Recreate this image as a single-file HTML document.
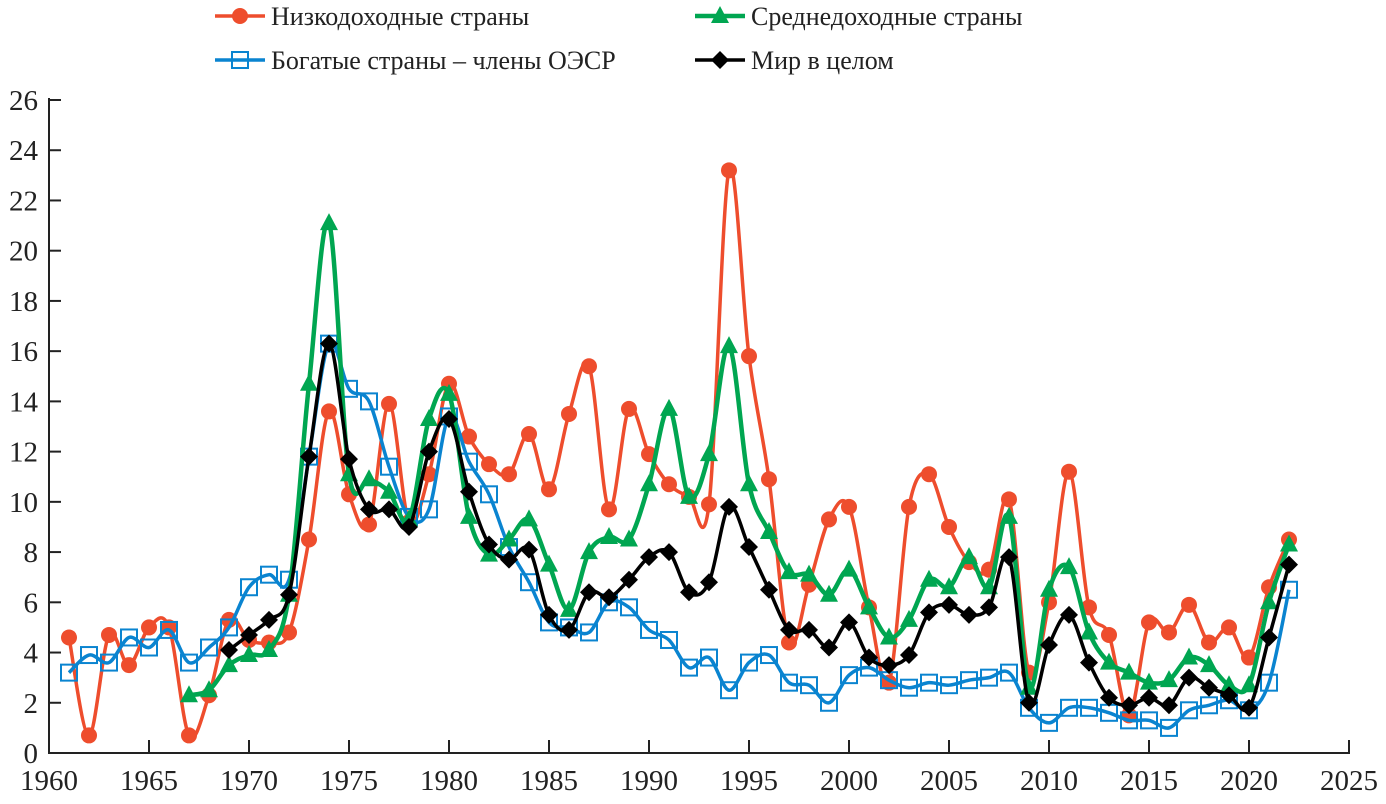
<!DOCTYPE html>
<html><head><meta charset="utf-8"><style>
html,body{margin:0;padding:0;background:#fff;}
svg{display:block;font-family:"Liberation Serif",serif;}
</style></head><body>
<svg id="chart" width="1386" height="804" viewBox="0 0 1386 804">
<g id="axes"></g>
<g id="series"></g>
<g id="legend"></g>
</svg>
<script>
const years = [];
for (let y = 1961; y <= 2022; y++) years.push(y);
const lowIncome = [4.6,0.7,4.7,3.5,5.0,5.0,0.7,2.3,5.3,4.5,4.4,4.8,8.5,13.6,10.3,9.1,13.9,9.2,11.1,14.7,12.6,11.5,11.1,12.7,10.5,13.5,15.4,9.7,13.7,11.9,10.7,10.2,9.9,23.2,15.8,10.9,4.4,6.7,9.3,9.8,5.8,2.8,9.8,11.1,9.0,7.6,7.3,10.1,3.2,6.0,11.2,5.8,4.7,1.5,5.2,4.8,5.9,4.4,5.0,3.8,6.6,8.5];
const middleStart = 1967;
const middleIncome = [2.3,2.5,3.5,3.9,4.1,6.3,14.7,21.1,11.1,10.9,10.4,9.3,13.3,14.3,9.4,7.9,8.5,9.3,7.5,5.7,8.0,8.6,8.5,10.7,13.7,10.2,11.9,16.2,10.7,8.8,7.2,7.1,6.3,7.3,5.8,4.6,5.3,6.9,6.6,7.8,6.6,9.4,2.6,6.5,7.4,4.8,3.6,3.2,2.8,2.9,3.8,3.5,2.7,2.7,6.0,8.3];
const oecd = [3.2,3.9,3.6,4.6,4.2,4.9,3.6,4.2,5.0,6.6,7.1,6.9,11.8,16.3,14.5,14.0,11.4,9.4,9.7,13.4,11.6,10.3,8.2,6.8,5.2,5.0,4.8,6.0,5.8,4.9,4.5,3.4,3.8,2.5,3.6,3.9,2.8,2.7,2.0,3.1,3.4,2.9,2.6,2.8,2.7,2.9,3.0,3.2,1.8,1.2,1.8,1.8,1.6,1.3,1.3,1.0,1.7,1.9,2.1,1.7,2.8,6.5];
const worldStart = 1969;
const world = [4.1,4.7,5.3,6.3,11.8,16.3,11.7,9.7,9.7,9.0,12.0,13.3,10.4,8.3,7.7,8.1,5.5,4.9,6.4,6.2,6.9,7.8,8.0,6.4,6.8,9.8,8.2,6.5,4.9,4.9,4.2,5.2,3.8,3.5,3.9,5.6,5.9,5.5,5.8,7.8,2.0,4.3,5.5,3.6,2.2,1.9,2.2,1.9,3.0,2.6,2.3,1.8,4.6,7.5];
const yTicks = [0,2,4,6,8,10,12,14,16,18,20,22,24,26];
const xTicks = [1960,1965,1970,1975,1980,1985,1990,1995,2000,2005,2010,2015,2020,2025];
const legendLabels = ["Низкодоходные страны","Среднедоходные страны","Богатые страны – члены ОЭСР","Мир в целом"];

const NS = "http://www.w3.org/2000/svg";
const X0=49, X1=1349, Y0=753, Y1=100;
const xs = yr => X0 + (yr-1960)*(X1-X0)/65;
const ys = v => Y0 - v*(Y0-Y1)/26;
function mk(tag, attrs, parent){const e=document.createElementNS(NS,tag);for(const k in attrs)e.setAttribute(k,attrs[k]);parent.appendChild(e);return e;}

const axes=document.getElementById('axes');
let a=mk('line',{x1:X0,y1:Y0,x2:X1+1,y2:Y0,stroke:'#222','stroke-width':2},axes);


a=mk('line',{x1:X0,y1:Y0+1,x2:X0,y2:Y1-2,stroke:'#222','stroke-width':2},axes);


yTicks.forEach(t=>{
  const tk=mk('line',{x1:X0,y1:ys(t),x2:X0+12,y2:ys(t),stroke:'#222','stroke-width':2},axes);
  
  
  const tx=mk('text',{x:38,y:ys(t)+10,'text-anchor':'end','font-size':29,fill:'#222'},axes);
  tx.textContent=t;
  
  
});
xTicks.forEach(t=>{
  const tk=mk('line',{x1:xs(t),y1:Y0,x2:xs(t),y2:Y0-13,stroke:'#222','stroke-width':2},axes);
  
  
  const tx=mk('text',{x:xs(t),y:790,'text-anchor':'middle','font-size':29,fill:'#222'},axes);
  tx.textContent=t;
  
  
});

function smoothPath(pts){
  let d=`M${pts[0][0]},${pts[0][1]}`;
  for(let i=0;i<pts.length-1;i++){
    const p0=pts[Math.max(0,i-1)],p1=pts[i],p2=pts[i+1],p3=pts[Math.min(pts.length-1,i+2)];
    const t=6;
    d+=` C${p1[0]+(p2[0]-p0[0])/t},${p1[1]+(p2[1]-p0[1])/t} ${p2[0]-(p3[0]-p1[0])/t},${p2[1]-(p3[1]-p1[1])/t} ${p2[0]},${p2[1]}`;
  }
  return d;
}
function marker(kind,x,y,color,g){
  let m;
  if(kind==='circle') m=mk('circle',{cx:x,cy:y,r:8,fill:color},g);
  else if(kind==='tri') m=mk('polygon',{points:`${x},${y-10} ${x-9},${y+7} ${x+9},${y+7}`,fill:color},g);
  else if(kind==='square') m=mk('rect',{x:x-8,y:y-8,width:16,height:16,fill:'none',stroke:color,'stroke-width':2},g);
  else m=mk('polygon',{points:`${x},${y-9} ${x+9},${y} ${x},${y+9} ${x-9},${y}`,fill:color},g);
  return m;
}
const seriesDefs=[
  {name:'low-income',data:lowIncome,start:1961,color:'#ee4d2d',kind:'circle',w:3.5},
  {name:'oecd',data:oecd,start:1961,color:'#0a84d0',kind:'square',w:3.5},
  {name:'middle-income',data:middleIncome,start:middleStart,color:'#00a651',kind:'tri',w:4.5},
  {name:'world',data:world,start:worldStart,color:'#000',kind:'diamond',w:3.5}
];
const sg=document.getElementById('series');
seriesDefs.forEach(s=>{
  const g=mk('g',{},sg);
  
  
  const pts=s.data.map((v,i)=>[xs(s.start+i),ys(v)]);
  const p=mk('path',{d:smoothPath(pts),fill:'none',stroke:s.color,'stroke-width':s.w,'stroke-linejoin':'round'},g);
  
  
  pts.forEach(pt=>{
    const m=marker(s.kind,pt[0],pt[1],s.color,g);
    
    
  });
});

const lg=document.getElementById('legend');
const legPos=[[215,16],[695,16],[215,60],[695,60]];
const order=[seriesDefs[0],seriesDefs[2],seriesDefs[1],seriesDefs[3]];
const orderLabels=[legendLabels[0],legendLabels[1],legendLabels[2],legendLabels[3]];
legPos.forEach((lp,i)=>{
  const s=order[i];
  const g=mk('g',{},lg);
  
  
  mk('line',{x1:lp[0],y1:lp[1],x2:lp[0]+50,y2:lp[1],stroke:s.color,'stroke-width':s.w},g);
  marker(s.kind,lp[0]+25,lp[1],s.color,g);
  const tx=mk('text',{x:lp[0]+56,y:lp[1]+9,'font-size':26,fill:'#222'},g);
  tx.textContent=orderLabels[i];
  
  
});
</script>
</body></html>
